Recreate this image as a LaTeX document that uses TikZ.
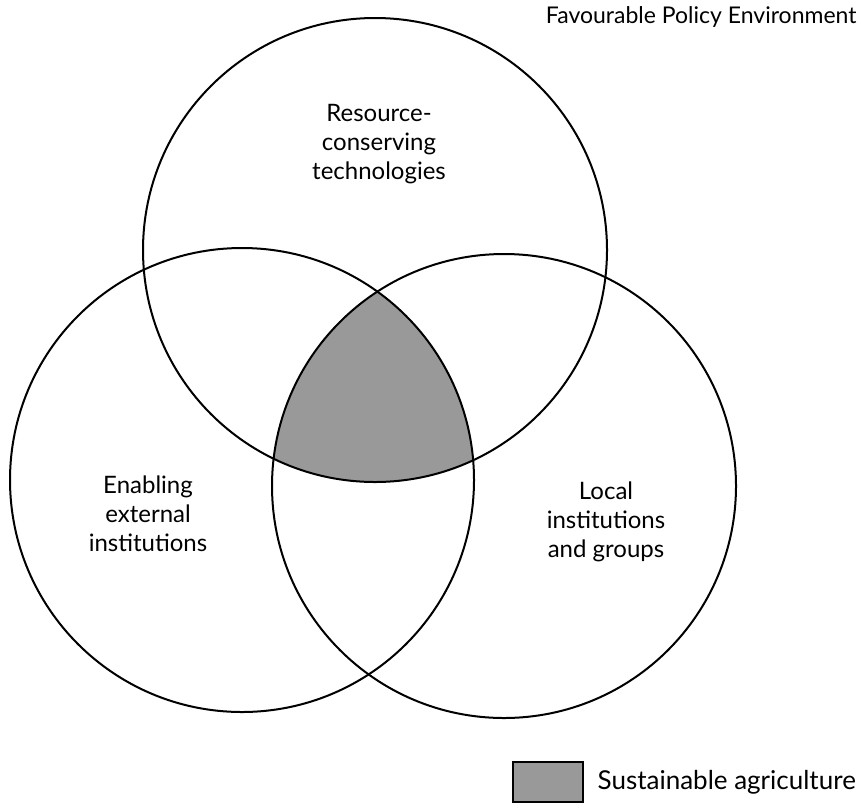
\documentclass[tikz,border=0pt]{standalone}
\usepackage{fontspec}
\setmainfont{Lato}
\usetikzlibrary{positioning}

\begin{document}
\begin{tikzpicture}[x=1pt,y=-1pt,
		lbl/.style={align=center,font=\fontsize{24}{29}\selectfont},
		ring/.style={line width=2pt,black},
		shade/.style={fill=black!40}]
	
	\useasboundingbox (0,0) rectangle (861,809);
	
	\coordinate (ctop) at (375,250);
	\coordinate (cleft) at (242,480);
	\coordinate (cright) at (504,486);
	
	% common part of the three circles
	\begin{scope}
		\clip (ctop) circle (232pt);
		\clip (cleft) circle (232pt);
		\fill[shade] (cright) circle (232pt);
	\end{scope}
	
	\draw[ring] (ctop) circle (232pt);
	\draw[ring] (cleft) circle (232pt);
	\draw[ring] (cright) circle (232pt);
	
	\node[lbl] (tech) at (379,144) {Resource-\\conserving\\technologies};
	\node[lbl] (ext) at (148,514) {Enabling\\external\\institutions};
	\node[lbl] (loc) at (606,522) {Local\\institutions\\and groups};
	\node[lbl,anchor=east,font=\fontsize{23}{28}\selectfont] (env) at (860,17) {Favourable Policy Environment};
	
	\node[draw,line width=2.2pt,shade,minimum width=70pt,minimum height=40pt] (key) at (548,782) {};
	\node[lbl,right=10pt of key,font=\fontsize{26}{30}\selectfont] (sust) {Sustainable agriculture};
\end{tikzpicture}
\end{document}
